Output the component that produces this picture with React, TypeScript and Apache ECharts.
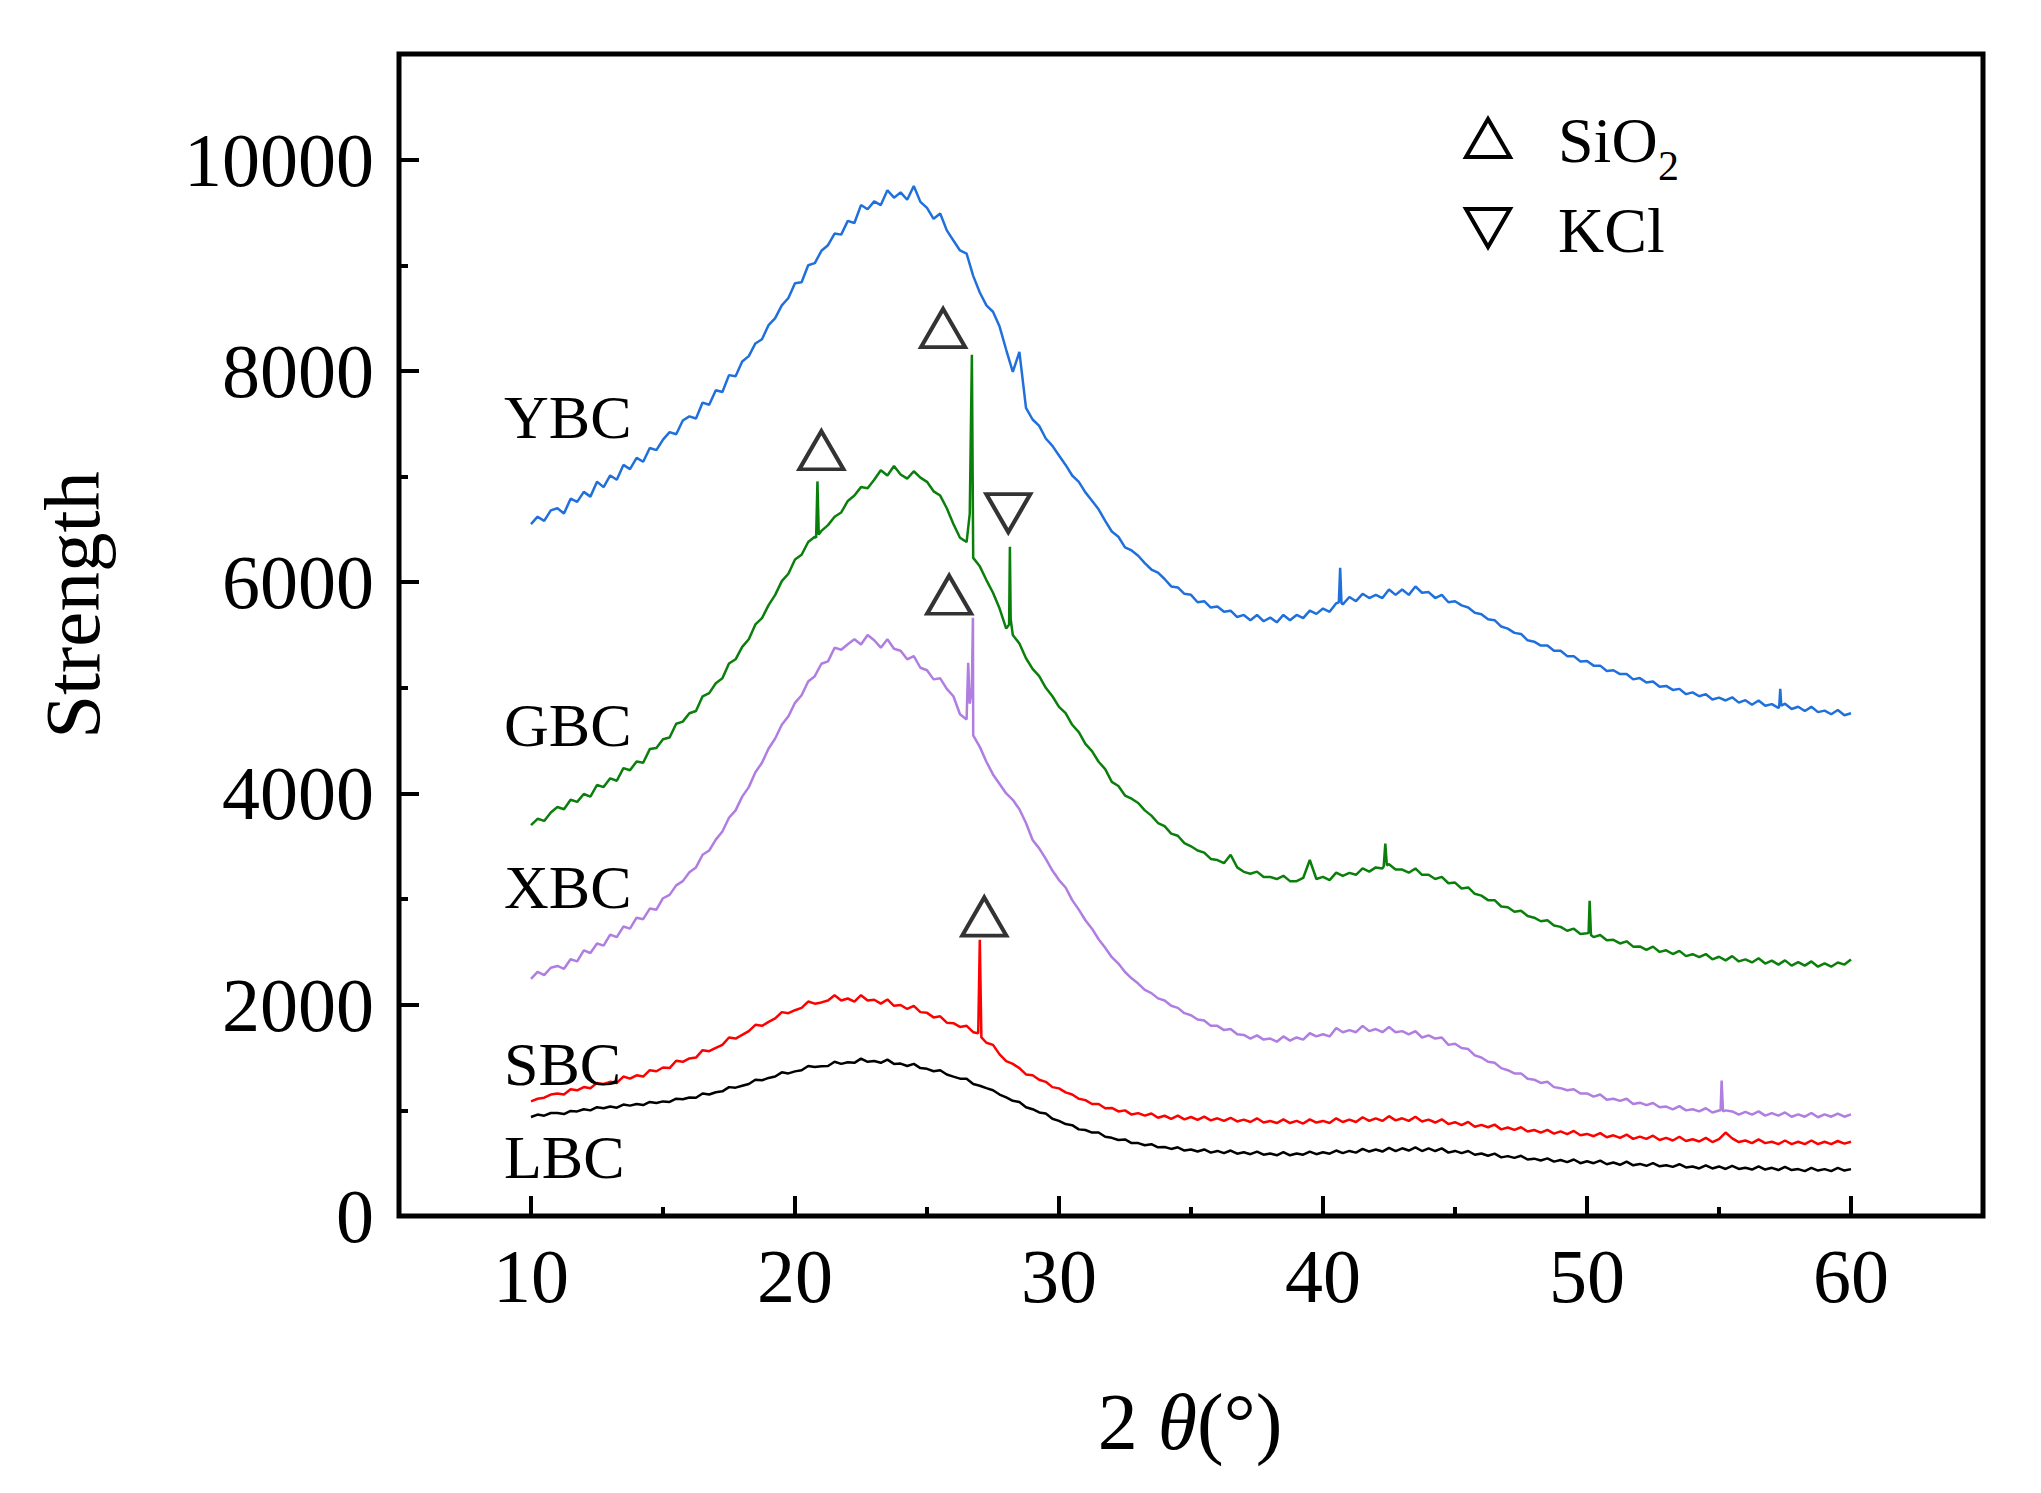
import React, { useRef, useEffect } from 'react'
import * as echarts from 'echarts'

// 2θ sample grid, 10° .. 60° every 0.25°
const angles = Array.from({ length: 201 }, (_, i) => 10 + i * 0.25)

const ybc = [
  6550, 6620, 6580, 6680, 6700, 6650, 6790, 6760, 6855, 6810, 6950, 6900, 7010, 6970, 7110, 7070,
  7176, 7140, 7270, 7250, 7350, 7420, 7400, 7530, 7570, 7550, 7700, 7680, 7817, 7800, 7960, 7950,
  8090, 8140, 8260, 8300, 8434, 8500, 8620, 8690, 8830, 8840, 9000, 9020, 9137, 9190, 9300, 9290,
  9420, 9400, 9570, 9530, 9605, 9570, 9710, 9640, 9690, 9620, 9750, 9600, 9543, 9440, 9490, 9330,
  9235, 9140, 9110, 8900, 8742, 8620, 8560, 8420, 8200, 7990, 8180, 7650, 7540, 7480, 7360, 7290,
  7200, 7110, 7010, 6950, 6850, 6770, 6690, 6580, 6480, 6430, 6330, 6300, 6250, 6180, 6120, 6090,
  6030, 5960, 5950, 5890, 5880, 5810, 5820, 5760, 5770, 5720, 5730, 5670, 5690, 5640, 5690, 5630,
  5665, 5620, 5690, 5640, 5690, 5660, 5730, 5700, 5750, 5720, 5800, 5790, 5860, 5820, 5890, 5850,
  5880, 5850, 5930, 5880, 5930, 5880, 5960, 5900, 5906, 5850, 5880, 5810, 5820, 5780, 5760, 5710,
  5697, 5650, 5640, 5580, 5560, 5520, 5510, 5450, 5437, 5400, 5400, 5350, 5351, 5300, 5300, 5250,
  5253, 5210, 5210, 5160, 5166, 5130, 5130, 5080, 5092, 5050, 5060, 5010, 5018, 4980, 4990, 4940,
  4957, 4920, 4940, 4890, 4907, 4880, 4910, 4860, 4883, 4840, 4880, 4830, 4846, 4810, 4850, 4800,
  4821, 4780, 4820, 4770, 4784, 4750, 4790, 4740, 4759,
]
const ybcPeaks = [[40.6, 5810], [40.65, 6136], [40.7, 5800], [57.28, 4820], [57.32, 4990], [57.36, 4830]]

const gbc = [
  3700, 3760, 3740, 3820, 3872, 3850, 3940, 3920, 3995, 3970, 4080, 4060, 4143, 4120, 4240, 4220,
  4303, 4290, 4420, 4430, 4513, 4530, 4660, 4680, 4759, 4780, 4920, 4950, 5043, 5090, 5230, 5270,
  5388, 5460, 5600, 5660, 5783, 5880, 6010, 6080, 6215, 6260, 6380, 6430, 6486, 6540, 6620, 6660,
  6769, 6820, 6900, 6890, 6970, 7060, 7010, 7100, 7020, 6980, 7050, 6990, 6950, 6860, 6820, 6700,
  6550, 6420, 6380, 6230, 6150, 6020, 5900, 5750, 5560, 5500, 5420, 5280, 5180, 5110, 5000, 4920,
  4820, 4760, 4650, 4580, 4470, 4400, 4300, 4230, 4110, 4070, 3980, 3950, 3910, 3840, 3790, 3720,
  3690, 3620, 3600, 3530, 3500, 3460, 3440, 3380, 3370, 3340, 3420, 3300, 3258, 3240, 3260, 3210,
  3210, 3190, 3220, 3170, 3170, 3200, 3370, 3190, 3210, 3180, 3250, 3220, 3248, 3230, 3290, 3260,
  3300, 3290, 3330, 3280, 3280, 3250, 3290, 3230, 3230, 3190, 3210, 3150, 3156, 3100, 3110, 3050,
  3033, 2990, 2990, 2930, 2922, 2880, 2890, 2840, 2824, 2790, 2800, 2750, 2737, 2700, 2720, 2670,
  2676, 2640, 2660, 2610, 2614, 2580, 2600, 2550, 2552, 2520, 2550, 2500, 2515, 2480, 2510, 2460,
  2478, 2450, 2480, 2430, 2454, 2420, 2460, 2410, 2429, 2400, 2440, 2390, 2417, 2380, 2420, 2370,
  2404, 2370, 2410, 2360, 2392, 2360, 2400, 2380, 2429,
]
const gbcPeaks = [
  [20.8, 6420], [20.85, 6954], [20.9, 6450],
  [26.62, 6650], [26.7, 8153], [26.73, 7000],
  [28.11, 5600], [28.14, 6335], [28.17, 5650],
  [42.3, 3310], [42.36, 3526], [42.42, 3320],
  [50.06, 2680], [50.1, 2984], [50.15, 2660],
]

const xbc = [
  2244, 2310, 2280, 2350, 2367, 2340, 2430, 2410, 2515, 2490, 2580, 2560, 2663, 2640, 2740, 2720,
  2824, 2810, 2910, 2900, 3008, 3040, 3130, 3170, 3255, 3300, 3420, 3460, 3563, 3640, 3770, 3840,
  3970, 4060, 4200, 4290, 4426, 4520, 4650, 4730, 4858, 4930, 5060, 5110, 5228, 5250, 5380, 5360,
  5413, 5460, 5410, 5500, 5450, 5380, 5460, 5370, 5351, 5270, 5300, 5190, 5166, 5080, 5090, 4990,
  4920, 4750, 4700, 4550, 4441, 4300, 4180, 4090, 4000, 3940, 3850, 3720, 3560, 3480, 3380, 3270,
  3180, 3110, 2990, 2900, 2800, 2720, 2620, 2540, 2450, 2390, 2310, 2250, 2200, 2140, 2110, 2060,
  2040, 1990, 1970, 1920, 1900, 1860, 1850, 1800, 1800, 1760, 1770, 1720, 1714, 1680, 1710, 1670,
  1680, 1650, 1700, 1660, 1690, 1670, 1730, 1700, 1720, 1700, 1780, 1740, 1760, 1740, 1800, 1750,
  1770, 1740, 1790, 1740, 1750, 1720, 1750, 1690, 1710, 1680, 1690, 1620, 1630, 1590, 1580, 1520,
  1500, 1460, 1450, 1400, 1380, 1350, 1350, 1300, 1290, 1260, 1270, 1220, 1210, 1190, 1200, 1160,
  1160, 1130, 1150, 1100, 1110, 1090, 1110, 1060, 1073, 1050, 1070, 1030, 1036, 1010, 1040, 1000,
  1011, 990, 1020, 980, 999, 1000, 990, 960, 986, 960, 990, 950, 974, 950, 980, 940,
  962, 940, 975, 935, 962, 940, 970, 940, 962,
]
const xbcPeaks = [
  [26.56, 5237], [26.62, 4850], [26.7, 5000], [26.74, 5663],
  [55.06, 1000], [55.1, 1282], [55.15, 990],
]

const sbc = [
  1085, 1110, 1120, 1150, 1159, 1150, 1200, 1190, 1221, 1210, 1260, 1250, 1270, 1260, 1320, 1300,
  1332, 1320, 1380, 1370, 1406, 1400, 1470, 1460, 1492, 1500, 1570, 1560, 1591, 1620, 1690, 1680,
  1714, 1750, 1810, 1800, 1837, 1870, 1930, 1920, 1948, 1970, 2030, 2010, 2022, 2040, 2090, 2040,
  2059, 2030, 2090, 2040, 2047, 2010, 2050, 1990, 1997, 1960, 1990, 1930, 1923, 1880, 1890, 1830,
  1825, 1790, 1800, 1740, 2614, 1640, 1620, 1530, 1467, 1440, 1400, 1340, 1332, 1290, 1270, 1220,
  1208, 1170, 1150, 1110, 1097, 1060, 1060, 1020, 1023, 990, 1000, 960, 974, 950, 970, 930,
  949, 920, 950, 915, 937, 910, 940, 905, 925, 900, 930, 895, 912, 890, 925, 885,
  900, 880, 915, 880, 900, 875, 915, 885, 900, 880, 925, 890, 912, 890, 935, 900,
  925, 900, 945, 905, 925, 900, 940, 895, 912, 885, 915, 870, 888, 860, 890, 845,
  863, 840, 865, 820, 838, 815, 840, 800, 814, 790, 815, 780, 801, 775, 805, 765,
  777, 755, 785, 745, 764, 740, 770, 730, 752, 730, 760, 720, 740, 715, 750, 710,
  727, 705, 740, 700, 727, 790, 735, 700, 715, 690, 725, 690, 703, 680, 715, 680,
  703, 680, 715, 680, 703, 680, 710, 685, 703,
]
const sbcPeaks = [[26.94, 1730], [27.06, 1690]]

const lbc = [
  937, 960, 950, 975, 974, 965, 995, 990, 1011, 1000, 1030, 1020, 1036, 1025, 1055, 1045,
  1060, 1050, 1080, 1070, 1085, 1080, 1110, 1105, 1122, 1120, 1160, 1150, 1171, 1180, 1220, 1215,
  1233, 1250, 1290, 1285, 1307, 1320, 1360, 1350, 1369, 1380, 1420, 1410, 1418, 1420, 1460, 1440,
  1455, 1450, 1490, 1460, 1467, 1450, 1480, 1440, 1443, 1420, 1440, 1400, 1393, 1370, 1380, 1340,
  1319, 1300, 1300, 1250, 1233, 1210, 1190, 1150, 1122, 1090, 1080, 1030, 1011, 980, 970, 920,
  900, 870, 860, 820, 814, 790, 790, 750, 740, 720, 725, 690, 690, 670, 680, 650,
  653, 635, 650, 620, 629, 610, 630, 600, 616, 595, 620, 590, 604, 585, 610, 580,
  592, 575, 605, 575, 592, 580, 610, 585, 604, 590, 620, 595, 616, 600, 635, 610,
  629, 610, 645, 615, 641, 620, 650, 615, 641, 615, 640, 600, 616, 595, 615, 580,
  592, 570, 590, 555, 567, 550, 570, 535, 543, 525, 545, 515, 530, 510, 535, 500,
  518, 500, 525, 490, 506, 485, 515, 480, 493, 475, 500, 470, 481, 465, 490, 460,
  469, 450, 480, 450, 469, 445, 475, 445, 456, 440, 470, 440, 456, 435, 465, 435,
  444, 425, 455, 430, 444, 425, 455, 430, 444,
]

const seriesNames = ['YBC', 'GBC', 'XBC', 'SBC', 'LBC']
const seriesColors = ['#2070dc', '#0b7f0b', '#b07de0', '#ff0000', '#000000']

// peak markers (open triangles) in data coordinates
const sio2Marks = [[21.0, 7249], [25.61, 8406], [25.84, 5881], [27.17, 2835]]
const kclMarks = [[28.08, 6654]]

const xMajor = [10, 20, 30, 40, 50, 60]
const xMinor = [15, 25, 35, 45, 55]
const yMajor = [0, 2000, 4000, 6000, 8000, 10000]
const yMinor = [1000, 3000, 5000, 7000, 9000]

const FONT = '"Liberation Serif", "Times New Roman", serif'

function build(values: number[], peaks: number[][] = []) {
  const pts = values.map((v, i) => [angles[i], v]).concat(peaks)
  pts.sort((a, b) => a[0] - b[0])
  return pts
}

function App() {
  const chartRef = useRef(null)

  useEffect(() => {
    const chart = echarts.init(chartRef.current, null, { renderer: 'svg' })

    const curves = [
      build(ybc, ybcPeaks),
      build(gbc, gbcPeaks),
      build(xbc, xbcPeaks),
      build(sbc, sbcPeaks),
      build(lbc),
    ]

    const tickStyle = { color: '#000', width: 4 }
    const xBase = {
      type: 'value',
      position: 'bottom',
      min: 5,
      max: 65,
      splitLine: { show: false },
      axisLine: { show: false },
    }
    const yBase = {
      type: 'value',
      position: 'left',
      min: 0,
      max: 11000,
      splitLine: { show: false },
      axisLine: { show: false },
    }

    const option = {
      animation: false,
      backgroundColor: '#fff',
      grid: {
        left: 399,
        right: 58,
        top: 54,
        bottom: 277,
        show: true,
        borderColor: '#000',
        borderWidth: 5,
        backgroundColor: 'transparent',
      },
      xAxis: [
        {
          ...xBase,
          axisTick: { inside: true, length: 20, lineStyle: tickStyle, customValues: xMajor },
          axisLabel: {
            customValues: xMajor,
            margin: 22,
            fontSize: 76,
            fontFamily: FONT,
            color: '#000',
            formatter: (v: number) => String(v),
          },
        },
        {
          ...xBase,
          axisTick: { inside: true, length: 9, lineStyle: tickStyle, customValues: xMinor },
          axisLabel: { show: false },
        },
      ],
      yAxis: [
        {
          ...yBase,
          axisTick: { inside: true, length: 20, lineStyle: tickStyle, customValues: yMajor },
          axisLabel: {
            customValues: yMajor,
            margin: 25,
            fontSize: 76,
            fontFamily: FONT,
            color: '#000',
            formatter: (v: number) => String(v),
          },
        },
        {
          ...yBase,
          axisTick: { inside: true, length: 9, lineStyle: tickStyle, customValues: yMinor },
          axisLabel: { show: false },
        },
      ],
      series: [
        ...curves.map((data, i) => ({
          name: seriesNames[i],
          type: 'line',
          data,
          showSymbol: false,
          symbol: 'none',
          lineStyle: { color: seriesColors[i], width: 2.5 },
          z: 2,
        })),
        {
          name: 'SiO2',
          type: 'scatter',
          data: sio2Marks,
          symbol: 'triangle',
          symbolSize: [44, 38],
          itemStyle: { color: 'rgba(0,0,0,0)', borderColor: '#000', borderWidth: 4 },
          z: 3,
        },
        {
          name: 'KCl',
          type: 'scatter',
          data: kclMarks,
          symbol: 'triangle',
          symbolRotate: 180,
          symbolSize: [44, 38],
          itemStyle: { color: 'rgba(0,0,0,0)', borderColor: '#000', borderWidth: 4 },
          z: 3,
        },
      ],
      graphic: [
        // curve labels
        ...[
          ['YBC', 417],
          ['GBC', 725],
          ['XBC', 887],
          ['SBC', 1064],
          ['LBC', 1157],
        ].map(([t, y]) => ({
          type: 'text',
          x: 504,
          y: y as number,
          style: { text: t, fontSize: 62, fontFamily: FONT, fill: '#000', align: 'left', verticalAlign: 'middle' },
          z: 10,
        })),
        // legend
        {
          type: 'polygon',
          shape: { points: [[1466, 157], [1488, 119], [1510, 157]] },
          style: { fill: 'none', stroke: '#000', lineWidth: 4 },
        },
        {
          type: 'polygon',
          shape: { points: [[1466, 209], [1510, 209], [1488, 247]] },
          style: { fill: 'none', stroke: '#000', lineWidth: 4 },
        },
        {
          type: 'text',
          x: 1558,
          y: 140,
          style: { text: 'SiO', fontSize: 64, fontFamily: FONT, fill: '#000', align: 'left', verticalAlign: 'middle' },
        },
        {
          type: 'text',
          x: 1658,
          y: 166,
          style: { text: '2', fontSize: 42, fontFamily: FONT, fill: '#000', align: 'left', verticalAlign: 'middle' },
        },
        {
          type: 'text',
          x: 1558,
          y: 230,
          style: { text: 'KCl', fontSize: 64, fontFamily: FONT, fill: '#000', align: 'left', verticalAlign: 'middle' },
        },
        // axis titles
        {
          type: 'text',
          x: 72,
          y: 605,
          rotation: Math.PI / 2,
          style: { text: 'Strength', fontSize: 79, fontFamily: FONT, fill: '#000', align: 'center', verticalAlign: 'middle' },
        },
        {
          type: 'text',
          x: 1190,
          y: 1422,
          style: {
            text: '{a|2}{b| θ}{a|(°)}',
            align: 'center',
            verticalAlign: 'middle',
            rich: {
              a: { fontSize: 80, fontFamily: FONT, fill: '#000' },
              b: { fontSize: 80, fontFamily: FONT, fontStyle: 'italic', fill: '#000' },
            },
          },
        },
      ],
    }

    chart.setOption(option)

    return () => {
      chart.dispose()
    }
  }, [])

  return (
    <div
      ref={chartRef}
      style={{ position: 'fixed', left: 0, top: 0, width: 2041, height: 1493, background: '#fff' }}
    ></div>
  )
}

export default App
